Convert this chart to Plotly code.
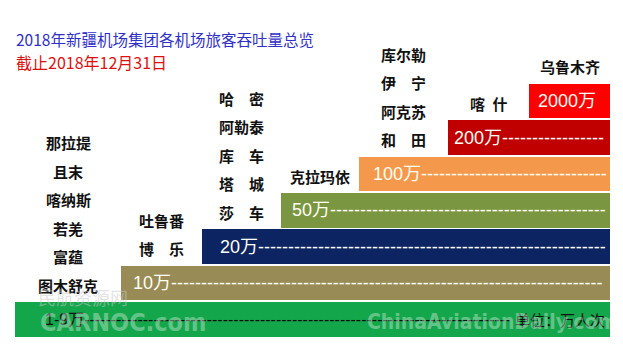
import plotly.graph_objects as go

# ---------------- data ----------------
tiers = ["1-9万", "10万", "20万", "50万", "100万", "200万", "2000万"]
tier_colors = ["#14A64B", "#988B55", "#0C2462", "#7A9640", "#F4994C", "#C00000", "#FF0000"]
airports = [
    ["图木舒克", "富蕴", "若羌", "喀纳斯", "且末", "那拉提"],
    ["博　乐", "吐鲁番"],
    ["莎　车", "塔　城", "库　车", "阿勒泰", "哈　密"],
    ["克拉玛依"],
    ["和　田", "阿克苏", "伊　宁", "库尔勒"],
    ["喀\u2002什"],
    ["乌鲁木齐"],
]
title = "2018年新疆机场集团各机场旅客吞吐量总览"
subtitle = "截止2018年12月31日"
unit_text = "单位：万人次"

# ---------------- layout params ----------------
W, H = 623, 351
edges = [15, 121, 202, 281, 359, 448, 529, 610]   # staircase column edges (px units on x axis)
pitch = 36.4                                      # px per tier on y axis
y0_px = 319.5                                     # pixel center of tier 0
ymin = (y0_px - H) / pitch
ymax = y0_px / pitch
CJK = "Noto Sans CJK SC"
NUMF = "Liberation Sans, Noto Sans CJK SC"

fig = go.Figure()
n = len(tiers)
starts = [edges[i] for i in range(n)]
widths = [edges[-1] - edges[i] for i in range(n)]
fig.add_trace(go.Bar(
    orientation="h", y=list(range(n)), x=widths, base=starts,
    marker=dict(color=tier_colors, line=dict(width=0)), width=0.95,
    hoverinfo="skip", showlegend=False,
))

ann = []
# bar texts with dashes
pads = [28, 10, 16, 9, 12, 4, 7]
for i, t in enumerate(tiers):
    x0 = edges[i] + pads[i]
    if i == 0:
        fs = 16
        lw = 3 * 0.556 * fs + fs
        nd = int((515 - x0 - lw) / (0.333 * fs))
        ann.append(dict(x=x0, y=i, text=t + "-" * nd, xanchor="left", yanchor="middle",
                        showarrow=False, font=dict(family=NUMF, size=fs, color="#111111")))
        ann.append(dict(x=edges[-1] - 3, y=i, text=unit_text, xanchor="right", yanchor="middle",
                        showarrow=False, font=dict(family=CJK, size=15, color="#111111")))
        continue
    fs = 18
    digits = len(t) - 1
    lw = digits * 0.556 * fs + fs
    nd = 0 if i == n - 1 else int((606 - x0 - lw) / (0.333 * fs))
    ann.append(dict(x=x0, y=i, text=t + "-" * nd, xanchor="left", yanchor="middle",
                    showarrow=False, font=dict(family=NUMF, size=fs, color="#FFFFF4")))

# airport labels above each step
for i, names in enumerate(airports):
    cx = (edges[i] + edges[i + 1]) / 2
    top = i + 0.475
    for k, name in enumerate(names):
        ann.append(dict(x=cx, y=top + (17 + 28.5 * k) / pitch, text="<b>" + name + "</b>",
                        xanchor="center", yanchor="middle", showarrow=False,
                        font=dict(family=CJK, size=15, color="#111111")))

# titles
ann.append(dict(x=14, y=(y0_px - 39) / pitch, text=title, xanchor="left", yanchor="middle",
                showarrow=False, font=dict(family=CJK, size=15.5, color="#3030C8")))
ann.append(dict(x=14, y=(y0_px - 62) / pitch, text=subtitle, xanchor="left", yanchor="middle",
                showarrow=False, font=dict(family=CJK, size=16, color="#DD1010")))

# watermarks
ann.append(dict(x=36, y=(y0_px - 297) / pitch, text="民航资源网", xanchor="left", yanchor="middle",
                showarrow=False, font=dict(family=CJK, size=18, color="rgba(200,200,200,0.5)")))
ann.append(dict(x=38, y=(y0_px - 322) / pitch, text="<b>CARNOC.com</b>", xanchor="left", yanchor="middle",
                showarrow=False, font=dict(family="Liberation Sans Narrow, DejaVu Sans Condensed, Liberation Sans",
                                           size=25, color="rgba(255,255,255,0.35)")))
ann.append(dict(x=365, y=(y0_px - 322) / pitch, text="<b>ChinaAviationDaily.com</b>", xanchor="left",
                yanchor="middle", showarrow=False,
                font=dict(family="Liberation Sans Narrow, DejaVu Sans Condensed, Liberation Sans",
                          size=21, color="rgba(255,255,255,0.35)")))

fig.update_layout(
    width=W, height=H, margin=dict(l=0, r=0, t=0, b=0),
    paper_bgcolor="white", plot_bgcolor="white",
    xaxis=dict(range=[0, W], visible=False, fixedrange=True),
    yaxis=dict(range=[ymin, ymax], visible=False, fixedrange=True),
    annotations=ann, bargap=0,
)
fig.write_html("out.html")
